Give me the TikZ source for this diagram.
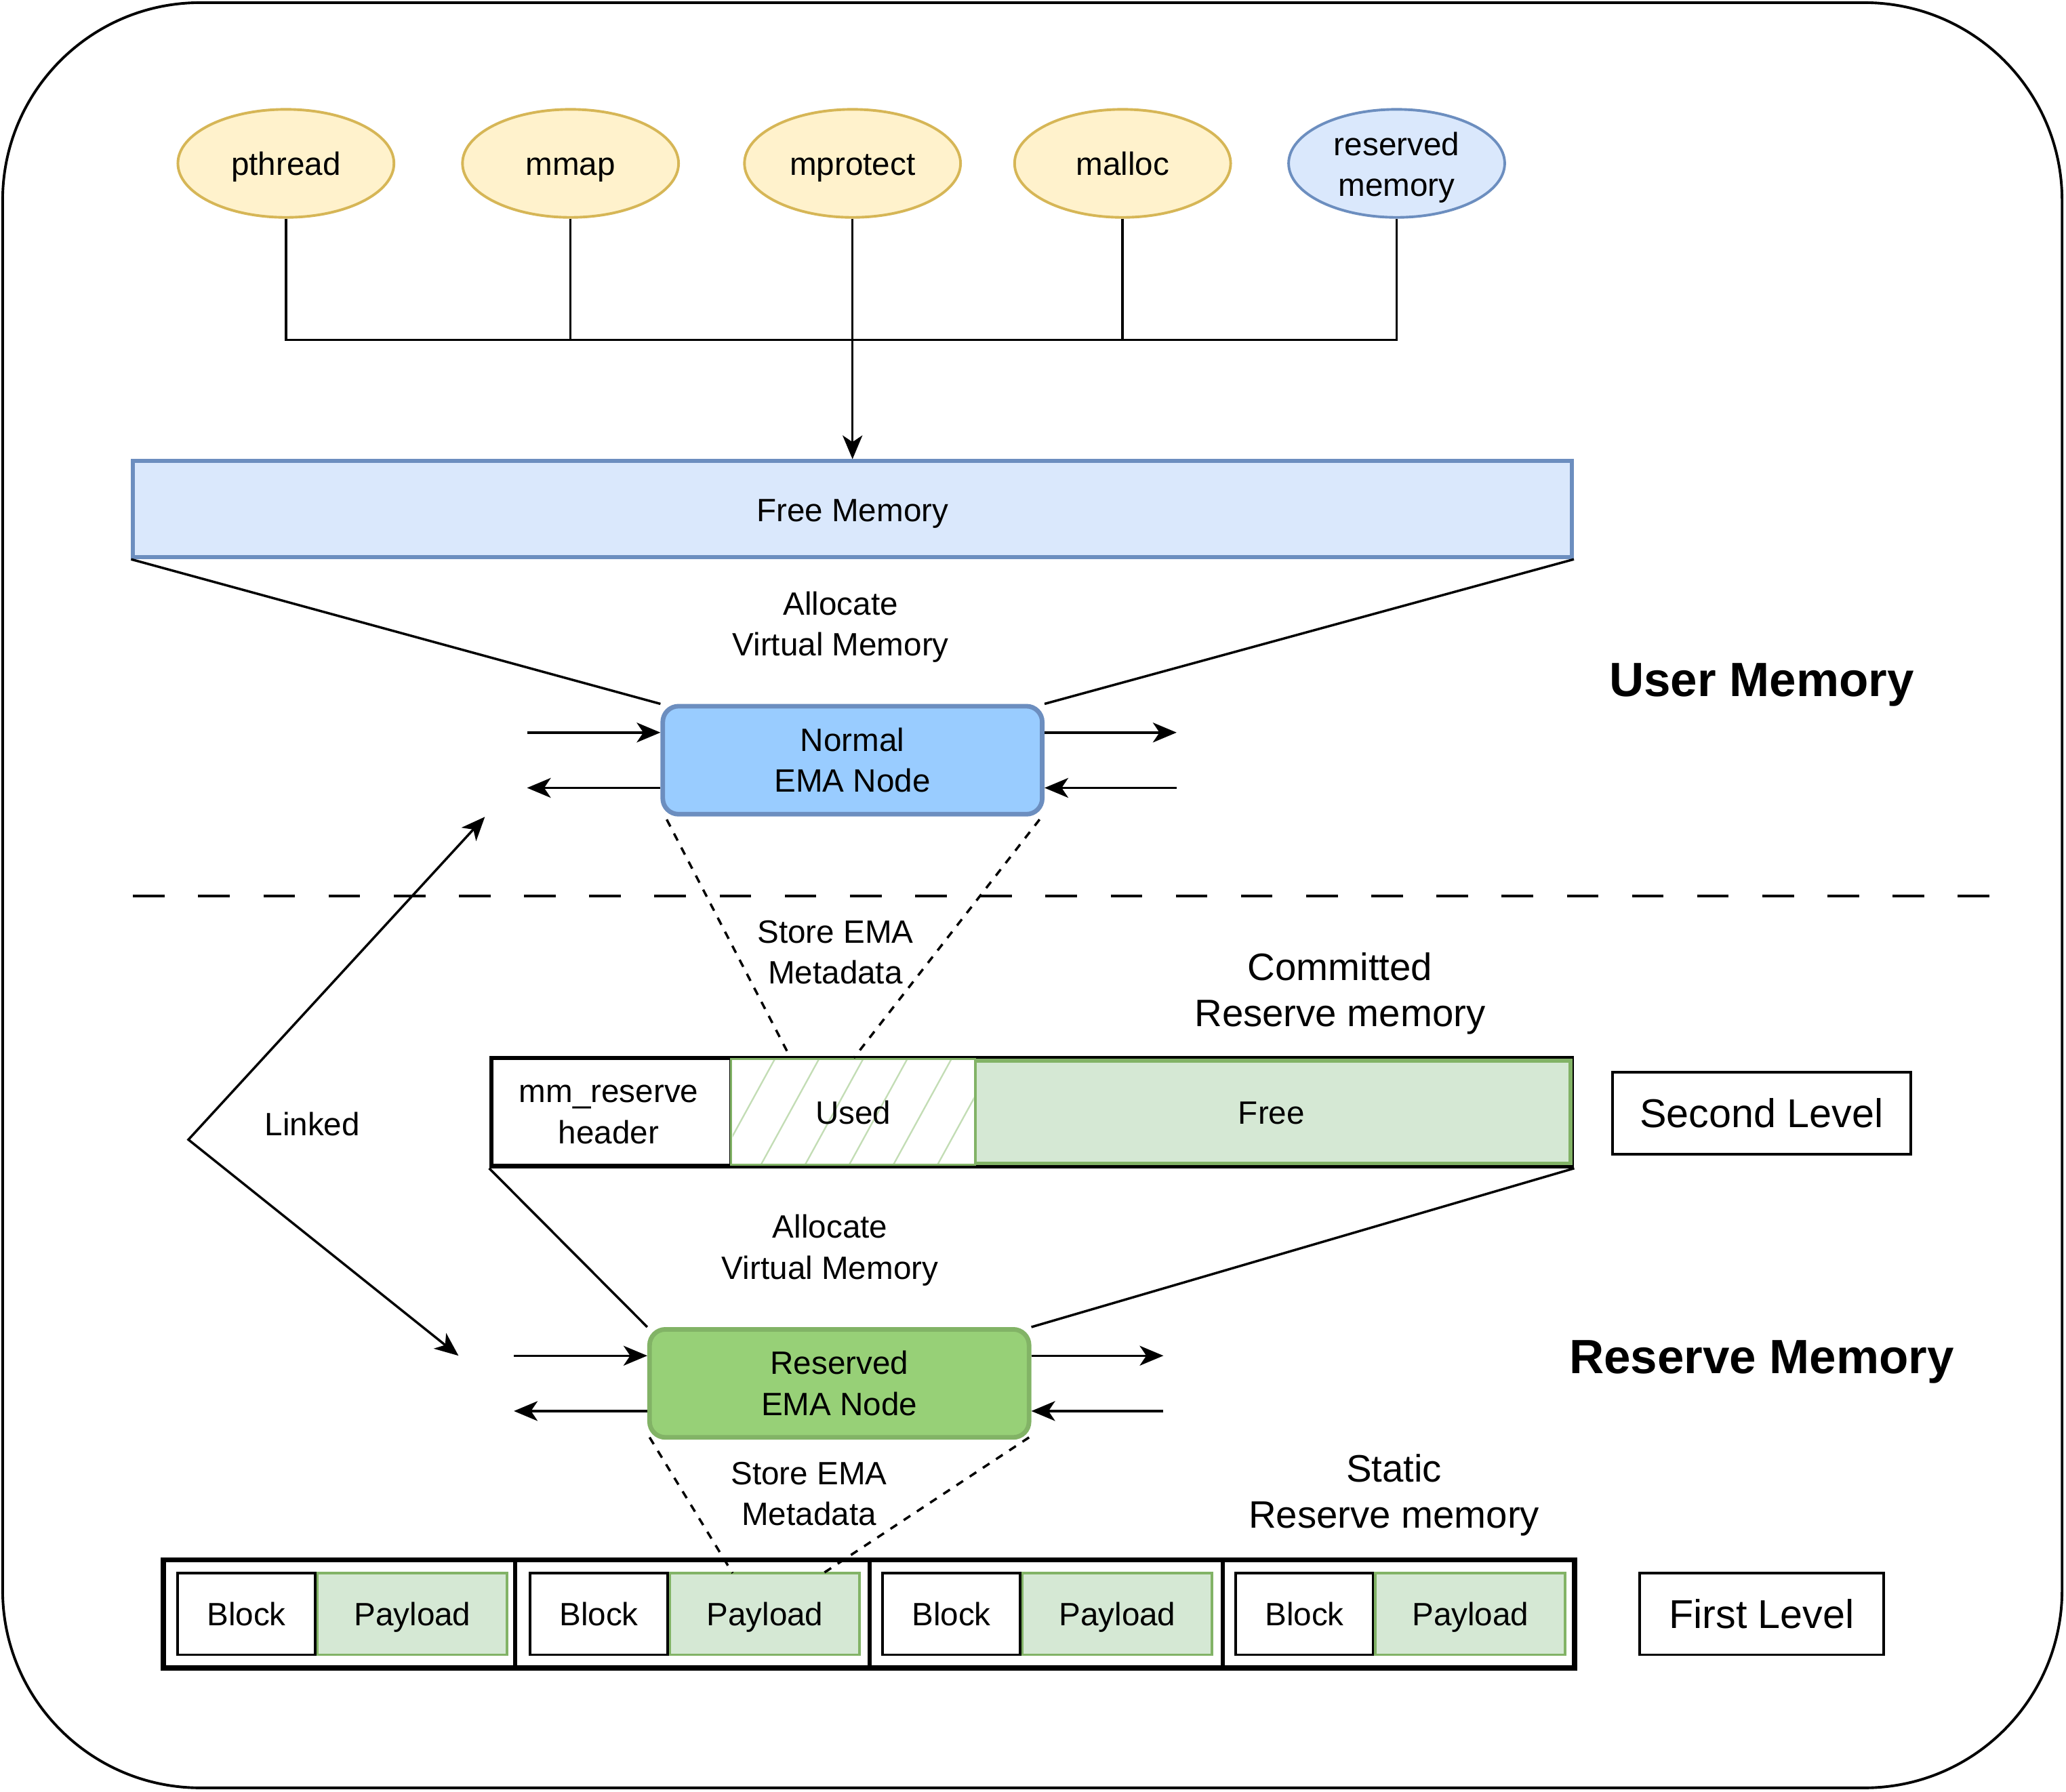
\documentclass[tikz,border=0pt]{standalone}
\usepackage{fontspec}
\setmainfont{Liberation Sans}
\usetikzlibrary{shapes.geometric,arrows.meta}
\definecolor{yfill}{HTML}{FFF2CC}
\definecolor{ystroke}{HTML}{D6B656}
\definecolor{bfill}{HTML}{DAE8FC}
\definecolor{bstroke}{HTML}{6C8EBF}
\definecolor{nfill}{HTML}{99CCFF}
\definecolor{gfill}{HTML}{D5E8D4}
\definecolor{gstroke}{HTML}{82B366}
\definecolor{rfill}{HTML}{97D077}
\definecolor{hatchc}{HTML}{C3DDB5}
\tikzset{
  txt/.style={font=\fontsize{24.5}{31}\selectfont, align=center, inner sep=0pt},
  one/.style={text height=23.6pt, text depth=5.4pt},
  bigtxt/.style={font=\fontsize{29}{35}\selectfont, align=center, inner sep=0pt},
  lvltxt/.style={font=\fontsize{30.5}{36}\selectfont, align=center, text height=28.4pt, text depth=6.7pt},
  headtxt/.style={font=\bfseries\fontsize{36.5}{42}\selectfont, align=center, inner sep=0pt, text height=33.2pt, text depth=8pt},
  oval/.style={ellipse, draw=ystroke, fill=yfill, line width=2pt, minimum width=164pt, minimum height=82pt, txt},
  conn/.style={line width=1.8pt},
  arr/.style={line width=1.8pt, -{Stealth[length=18pt,width=15pt,inset=5pt]}},
  darr/.style={line width=1.8pt, {Stealth[length=18pt,width=15pt,inset=5pt]}-{Stealth[length=18pt,width=15pt,inset=5pt]}},
  dashln/.style={line width=1.8pt, dash pattern=on 6pt off 6pt},
  emabox/.style={rounded corners=12pt, line width=3.5pt, minimum width=288pt, minimum height=82pt, txt},
  blockbox/.style={draw=black, fill=white, line width=2pt, minimum width=104pt, minimum height=62pt, txt, one, anchor=west},
  paybox/.style={draw=gstroke, fill=gfill, line width=2pt, minimum width=144pt, minimum height=62pt, txt, one, anchor=west},
}
\begin{document}
\begin{tikzpicture}[x=1pt,y=-1pt]
\useasboundingbox (0,0) rectangle (1568,1360);
% outer frame
\draw[line width=2pt, rounded corners=150pt] (2,2) rectangle (1565,1357);

% top ovals
\node[oval, one] (pthread) at (217,124) {pthread};
\node[oval, one] (mmap) at (433,124) {mmap};
\node[oval, one] (mprotect) at (647,124) {mprotect};
\node[oval, one] (malloc) at (852,124) {malloc};
\node[oval, draw=bstroke, fill=bfill] (reserved) at (1060,124) {};
\node[txt] (reservedlbl) at (1060,127) {reserved\\memory};

\coordinate (busL) at (217,258);
\coordinate (busR) at (1060,258);
\draw[conn] (pthread.south) -- (busL) -- (busR) -- (reserved.south);
\draw[conn] (mmap.south) -- (mmap.south |- busL);
\draw[conn] (malloc.south) -- (malloc.south |- busL);

% free memory
\node[draw=bstroke, fill=bfill, line width=3pt, minimum width=1092pt, minimum height=73pt, txt, one] (free) at (647,386.5) {Free Memory};
\draw[arr] (mprotect.south) -- (free.north);

% normal EMA node
\node[emabox, draw=bstroke, fill=nfill] (normal) at (647,577) {Normal\\EMA Node};
\draw[conn] (free.south west) -- (normal.north west);
\draw[conn] (free.south east) -- (normal.north east);
\node[txt] (alloc1) at (638,476) {Allocate\\Virtual Memory};
\node[headtxt] (usermem) at (1337,516) {User Memory};

\coordinate (nl1) at (400,556);
\coordinate (nl2) at (400,598);
\coordinate (nr1) at (893,556);
\coordinate (nr2) at (893,598);
\draw[arr] (nl1) -- (nl1 -| normal.west);
\draw[arr] (nl2 -| normal.west) -- (nl2);
\draw[arr] (nr1 -| normal.east) -- (nr1);
\draw[arr] (nr2) -- (nr2 -| normal.east);

% separator
\draw[line width=2pt, dash pattern=on 24pt off 25.46pt] (101,680) -- (1511,680);

% committed reserve bar
\node[draw=black, line width=3.5pt, minimum width=820pt, minimum height=82pt, inner sep=0pt] (bar) at (783,844) {};
\node[draw=black, fill=white, line width=3pt, minimum width=182pt, minimum height=82pt, txt] (hdr) at (464,844) {};
\node[txt] (hdrlbl) at (462,846) {mm\_reserve\\header};
\node[draw=gstroke, fill=gfill, line width=3pt, minimum width=452pt, minimum height=78pt, txt] (freecell) at (966,844) {};
\node[draw=gstroke, fill=white, line width=1.5pt, minimum width=185pt, minimum height=80pt] (used) at (647.5,844) {};
\begin{scope}
\clip (556,805) rectangle (739,883);
\foreach \i in {0,...,8} {
  \draw[hatchc, line width=1.2pt] (510+\i*33.5,885) -- (555+\i*33.5,803);
}
\end{scope}
\node[draw=gstroke, line width=1.5pt, minimum width=185pt, minimum height=80pt, txt, one] (usedlbl) at (647.5,844) {Used};
\node[txt, one] (freelbl) at (965,844) {Free};
\node[bigtxt] (committed) at (1017,754) {Committed\\Reserve memory};
\node[draw=black, line width=2pt, minimum width=226pt, minimum height=62pt, lvltxt] (second) at (1337,845) {Second Level};

\coordinate (u1) at (600,803);
\coordinate (u2) at (648,803);
\coordinate (n1) at (506,622);
\coordinate (n2) at (789,622);
\draw[dashln] (n1) -- (u1);
\draw[dashln] (n2) -- (u2);
\node[txt] (store1) at (634,723) {Store EMA\\Metadata};

% reserved EMA node
\node[emabox, draw=gstroke, fill=rfill] (rema) at (637,1050) {Reserved\\EMA Node};
\draw[conn] (bar.south west) -- (rema.north west);
\draw[conn] (bar.south east) -- (rema.north east);
\node[txt] (alloc2) at (630,949) {Allocate\\Virtual Memory};
\node[headtxt] (resmem) at (1337,1030) {Reserve Memory};

\coordinate (rl1) at (390,1029);
\coordinate (rl2) at (390,1071);
\coordinate (rr1) at (883,1029);
\coordinate (rr2) at (883,1071);
\draw[arr] (rl1) -- (rl1 -| rema.west);
\draw[arr] (rl2 -| rema.west) -- (rl2);
\draw[arr] (rr1 -| rema.east) -- (rr1);
\draw[arr] (rr2) -- (rr2 -| rema.east);

% linked
\coordinate (lk) at (143,865);
\coordinate (lkT) at (368,620);
\coordinate (lkB) at (348,1029);
\draw[darr] (lkT) -- (lk) -- (lkB);
\node[txt, one] (linked) at (237,853) {Linked};

% first level blocks
\node[draw=black, line width=4pt, minimum width=1071pt, minimum height=82pt, inner sep=0pt] (static) at (659.5,1225) {};
\draw[line width=3pt] (391,1184) -- (391,1266);
\draw[line width=3pt] (660,1184) -- (660,1266);
\draw[line width=3pt] (928,1184) -- (928,1266);
\foreach \k/\x in {1/134,2/401.5,3/669,4/937} {
  \node[blockbox] (blk\k) at (\x,1225) {Block};
  \node[paybox] (pay\k) at (blk\k.east) {Payload};
}
\node[bigtxt] (staticlbl) at (1058,1135) {Static\\Reserve memory};
\node[draw=black, line width=2pt, minimum width=185pt, minimum height=62pt, lvltxt] (first) at (1337,1225) {First Level};

\coordinate (p1) at (556,1194);
\coordinate (p2) at (625,1194);
\coordinate (r1) at (493,1091);
\coordinate (r2) at (781,1091);
\draw[dashln] (r1) -- (p1);
\draw[dashln] (r2) -- (p2);
\node[txt] (store2) at (614,1134) {Store EMA\\Metadata};
\end{tikzpicture}
\end{document}
